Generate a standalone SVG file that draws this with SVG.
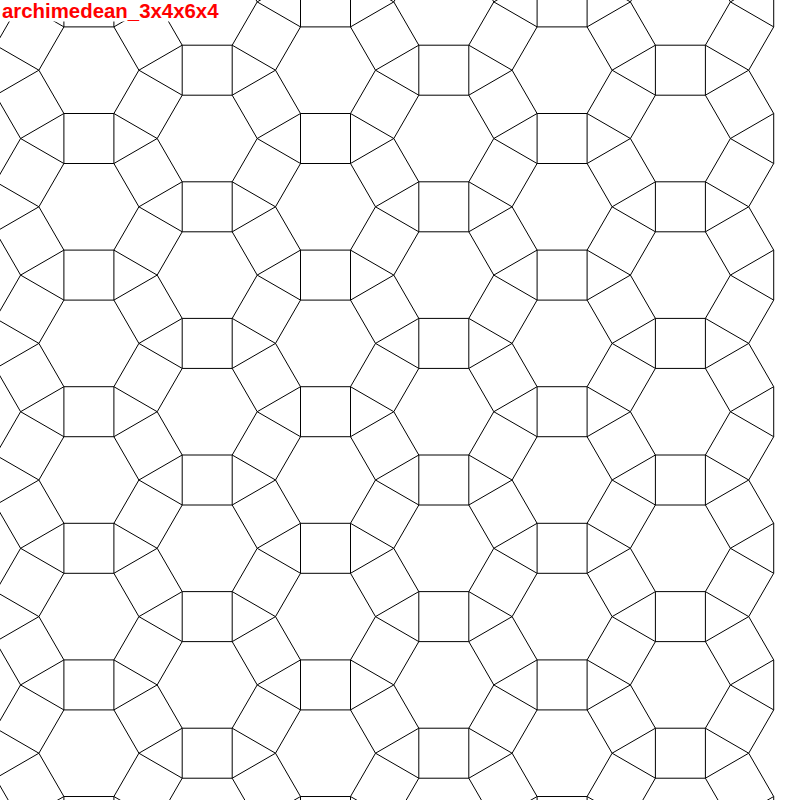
<svg xmlns="http://www.w3.org/2000/svg" xmlns:xlink="http://www.w3.org/1999/xlink" width="800" height="800" viewBox="0 0 800 800">
<style>
.edge{fill:none;stroke:#000;stroke-width:1;stroke-linejoin:miter}
.title{font-family:"Liberation Sans",Arial,sans-serif;font-weight:bold;font-size:20.4px;fill:#ff0000}
</style>
<defs>
<path id="u" class="edge" d="M50,0 L25,-43.301 L-25,-43.301 L-50,0 L-25,43.301 L25,43.301 Z M-25,-43.301 V-93.301 M25,-43.301 V-93.301 M25,-43.301 L68.301,-68.301 M50,0 L93.301,-25 M50,0 L93.301,25 M25,43.301 L68.301,68.301"/>
<path id="ur" class="edge" d="M-25,-43.301 L-50,0 L-25,43.301 M-25,-43.301 V-93.301"/>
<g id="colE">
<use xlink:href="#u" href="#u" y="-66.403"/>
<use xlink:href="#u" href="#u" y="70.2"/>
<use xlink:href="#u" href="#u" y="206.803"/>
<use xlink:href="#u" href="#u" y="343.406"/>
<use xlink:href="#u" href="#u" y="480.009"/>
<use xlink:href="#u" href="#u" y="616.612"/>
<use xlink:href="#u" href="#u" y="753.215"/>
<use xlink:href="#u" href="#u" y="889.818"/>
</g>
<g id="colO">
<use xlink:href="#u" href="#u" y="1.899"/>
<use xlink:href="#u" href="#u" y="138.502"/>
<use xlink:href="#u" href="#u" y="275.105"/>
<use xlink:href="#u" href="#u" y="411.708"/>
<use xlink:href="#u" href="#u" y="548.311"/>
<use xlink:href="#u" href="#u" y="684.914"/>
<use xlink:href="#u" href="#u" y="821.517"/>
</g>
<g id="colR">
<use xlink:href="#ur" href="#ur" y="-66.403"/>
<use xlink:href="#ur" href="#ur" y="70.2"/>
<use xlink:href="#ur" href="#ur" y="206.803"/>
<use xlink:href="#ur" href="#ur" y="343.406"/>
<use xlink:href="#ur" href="#ur" y="480.009"/>
<use xlink:href="#ur" href="#ur" y="616.612"/>
<use xlink:href="#ur" href="#ur" y="753.215"/>
<use xlink:href="#ur" href="#ur" y="889.818"/>
</g>
</defs>
<rect x="0" y="0" width="800" height="800" fill="#fff"/>
<g id="tiling">
<use xlink:href="#colO" href="#colO" x="-29.401"/>
<use xlink:href="#colE" href="#colE" x="88.9"/>
<use xlink:href="#colO" href="#colO" x="207.201"/>
<use xlink:href="#colE" href="#colE" x="325.502"/>
<use xlink:href="#colO" href="#colO" x="443.803"/>
<use xlink:href="#colE" href="#colE" x="562.104"/>
<use xlink:href="#colO" href="#colO" x="680.405"/>
<use xlink:href="#colR" href="#colR" x="798.706"/>
</g>
<g id="label">
<rect x="0" y="0" width="224" height="21.5" fill="#fff"/>
<text class="title" x="2" y="18">archimedean_3x4x6x4</text>
</g>
</svg>
